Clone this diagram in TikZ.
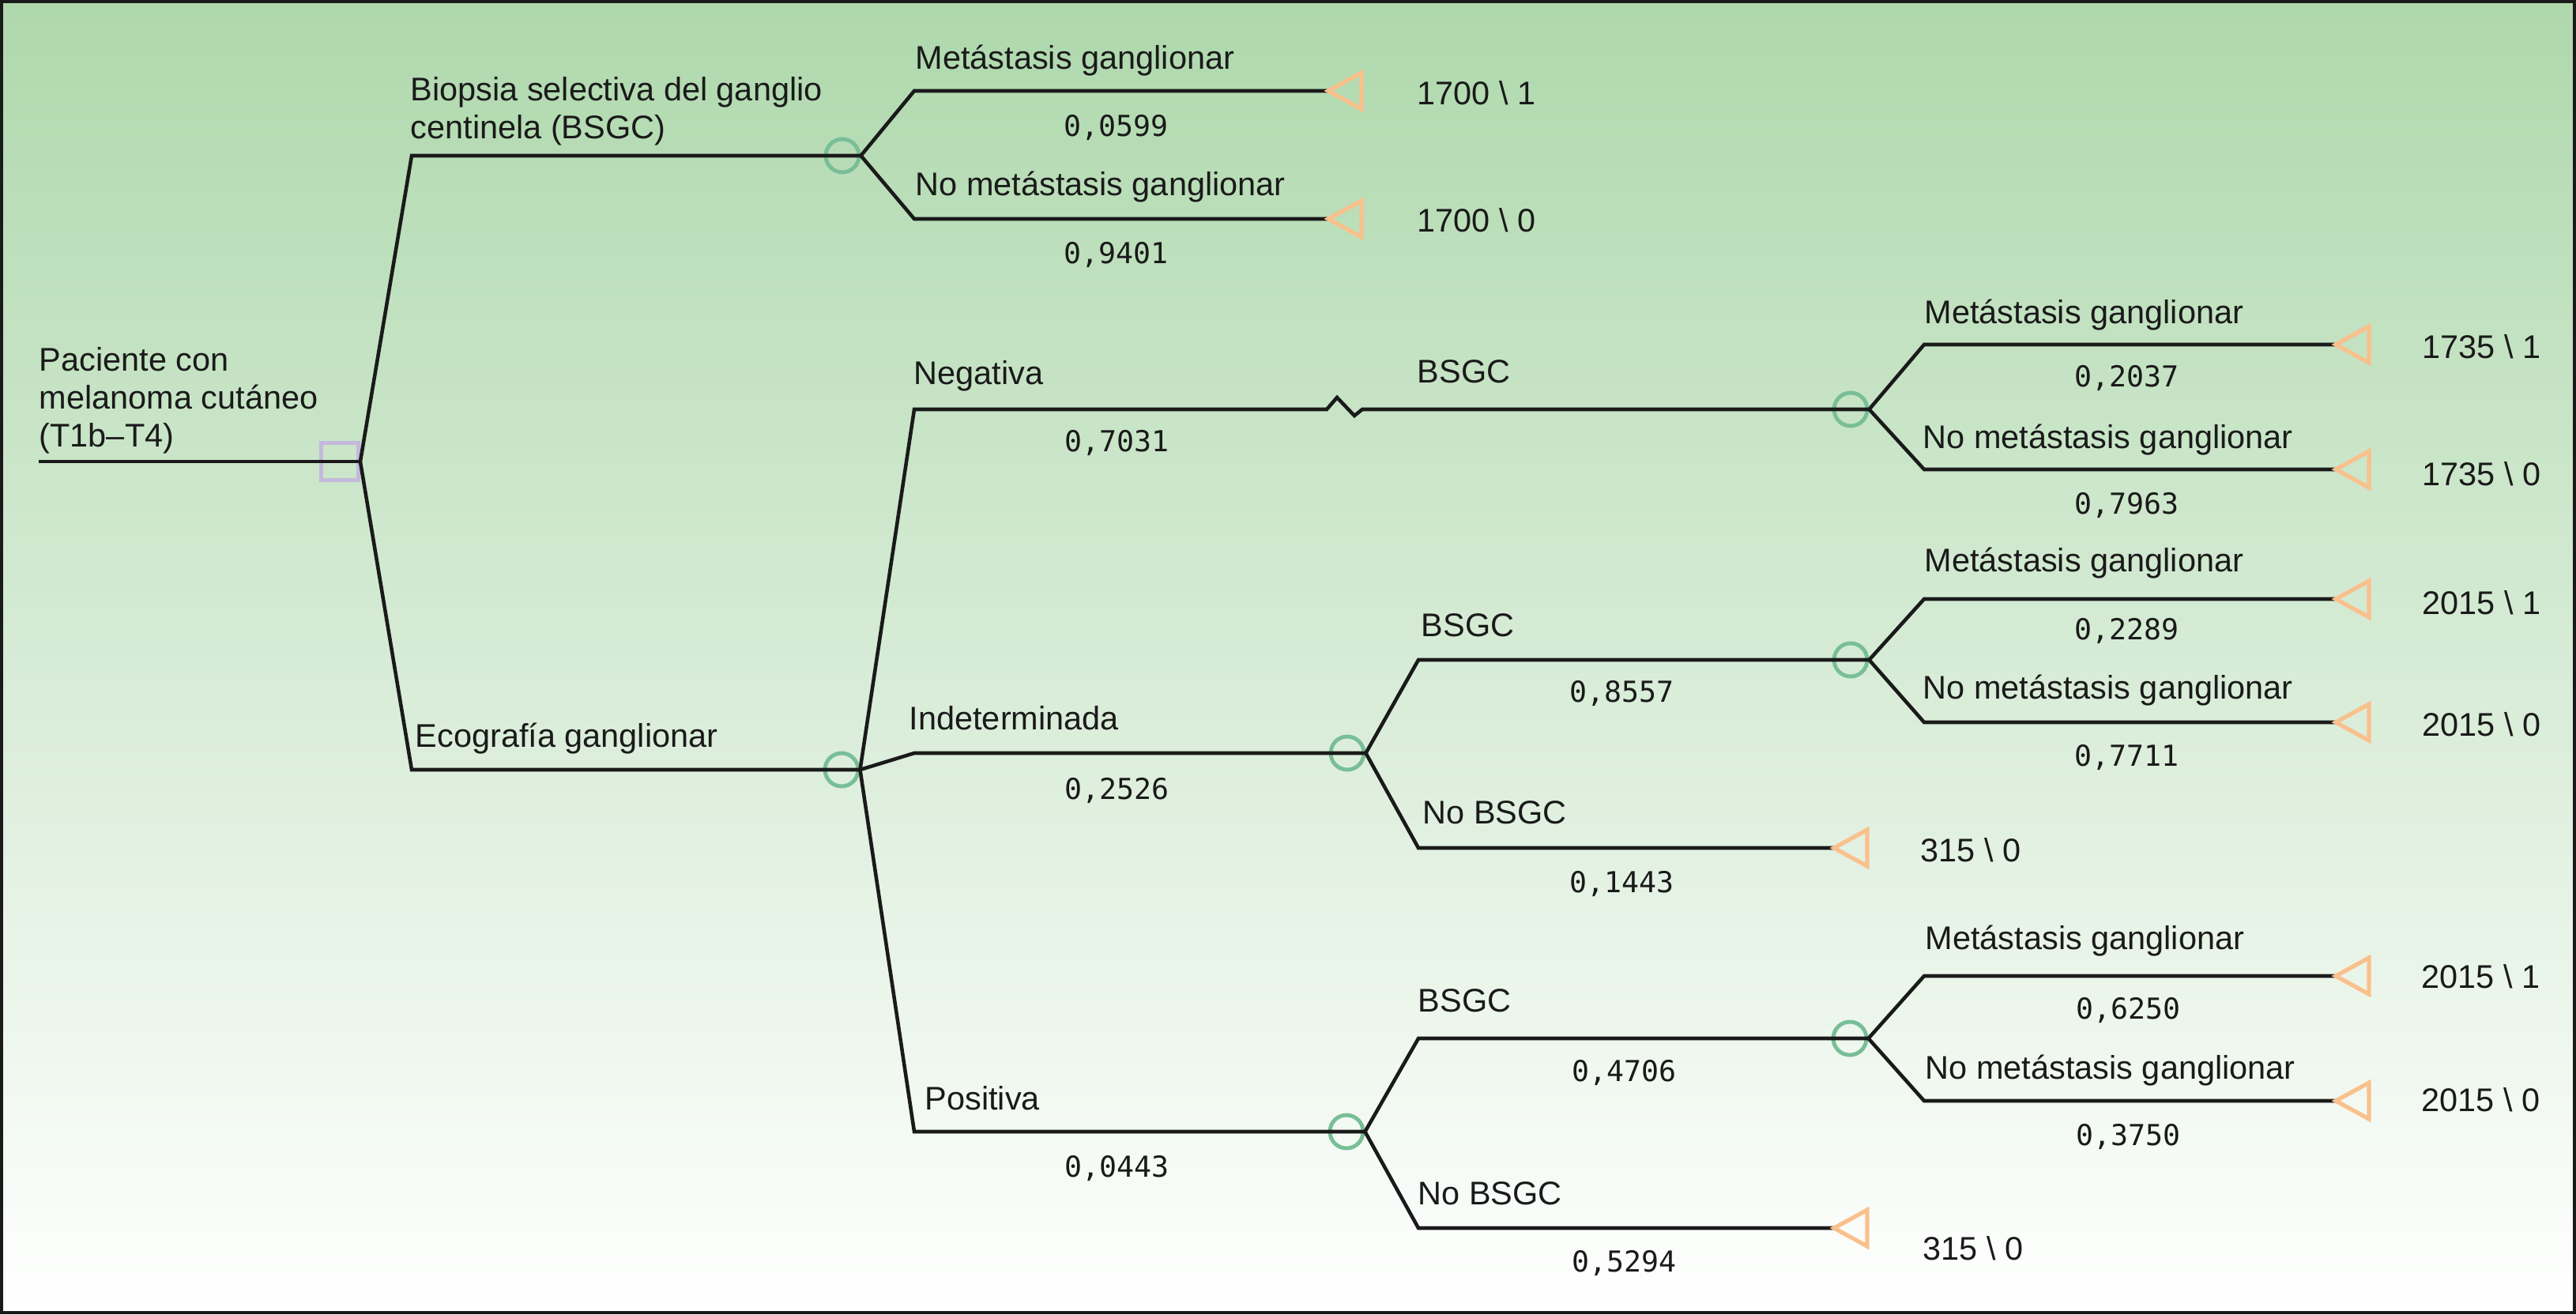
\documentclass[tikz,border=0pt]{standalone}
\usepackage{fontspec}
\setmainfont{Liberation Sans}
\newfontfamily\probfont{DejaVu Sans Mono}
\usetikzlibrary{positioning}

\definecolor{bgtop}{RGB}{174,216,172}
\definecolor{chancegreen}{RGB}{120,190,150}
\definecolor{endorange}{RGB}{250,192,140}
\definecolor{decpurple}{RGB}{196,184,220}
\definecolor{inkblack}{RGB}{26,26,26}

\tikzset{
    branch/.style={inkblack, line width=1.3pt},
    chance/.style={circle, draw=chancegreen, line width=1.4pt, minimum size=0.42cm, inner sep=0pt},
    decision/.style={rectangle, draw=decpurple, line width=1.4pt, minimum size=0.47cm, inner sep=0pt},
    endtri/.style={draw=endorange, line width=1.5pt},
    lbl/.style={font=\fontsize{11.8}{13.6}\selectfont, text=inkblack, inner sep=0pt, anchor=base west},
    prob/.style={font=\probfont\fontsize{10.4}{12}\selectfont, text=inkblack, inner sep=0pt, anchor=base}
}

\begin{document}
\begin{tikzpicture}
    \useasboundingbox (0,0) rectangle (32.6,-16.63);
    \shade[top color=bgtop, bottom color=white] (0,0) rectangle (32.6,-16.63);
    \draw[inkblack, line width=1pt] (0.018,-0.018) rectangle (32.582,-16.612);

    % Decision and chance nodes.
        \node[decision] (dec) at (4.30,-5.84) {};
        \node[chance] (c1) at (10.66,-1.97) {};
        \node[chance] (c2) at (10.65,-9.74) {};
        \node[chance] (c3) at (17.05,-9.53) {};
        \node[chance] (c4) at (17.04,-14.32) {};
        \node[chance] (c5) at (23.42,-5.18) {};
        \node[chance] (c6) at (23.42,-8.35) {};
        \node[chance] (c7) at (23.41,-13.14) {};

    % End points (tips of the triangles).
        \coordinate (t1) at (16.81,-1.15);
        \coordinate (t2) at (16.81,-2.77);
        \coordinate (t3) at (29.56,-4.36);
        \coordinate (t4) at (29.56,-5.94);
        \coordinate (t5) at (29.56,-7.58);
        \coordinate (t6) at (29.56,-9.14);
        \coordinate (t7) at (23.21,-10.73);
        \coordinate (t8) at (29.56,-12.35);
        \coordinate (t9) at (29.56,-13.93);
        \coordinate (t10) at (23.21,-15.54);

    % Columns where the branches bend.
        \coordinate (k1) at (5.21,0);
        \coordinate (k2) at (11.57,0);
        \coordinate (k3) at (17.95,0);
        \coordinate (k4) at (24.35,0);
        \coordinate (start) at (0.49,-5.84);
        \coordinate (zz) at (16.79,-5.18);

    % Branches.
        \draw[branch] (start) -- (dec.east);
        \draw[branch] (dec.east) -- (k1 |- c1) -- (c1.east);
        \draw[branch] (dec.east) -- (k1 |- c2) -- (c2.east);
        \draw[branch] (c1.east) -- (k2 |- t1) -- (t1);
        \draw[branch] (c1.east) -- (k2 |- t2) -- (t2);
        \draw[branch] (c2.east) -- (k2 |- c5) -- (zz) -- ++(0.13,0.15) -- ++(0.22,-0.23) -- ++(0.10,0.08) -- (c5.east);
        \draw[branch] (c2.east) -- (k2 |- c3) -- (c3.east);
        \draw[branch] (c2.east) -- (k2 |- c4) -- (c4.east);
        \draw[branch] (c3.east) -- (k3 |- c6) -- (c6.east);
        \draw[branch] (c3.east) -- (k3 |- t7) -- (t7);
        \draw[branch] (c4.east) -- (k3 |- c7) -- (c7.east);
        \draw[branch] (c4.east) -- (k3 |- t10) -- (t10);
        \draw[branch] (c5.east) -- (k4 |- t3) -- (t3);
        \draw[branch] (c5.east) -- (k4 |- t4) -- (t4);
        \draw[branch] (c6.east) -- (k4 |- t5) -- (t5);
        \draw[branch] (c6.east) -- (k4 |- t6) -- (t6);
        \draw[branch] (c7.east) -- (k4 |- t8) -- (t8);
        \draw[branch] (c7.east) -- (k4 |- t9) -- (t9);

    % This draws the end triangles.
        \foreach \t in {t1,t2,t3,t4,t5,t6,t7,t8,t9,t10}
            \draw[endtri] (\t) -- ++(0.42,0.23) -- ++(0,-0.46) -- cycle;

    % Below nodes are the labels.
        \node[lbl, anchor=north west, align=left] (root) at (0.49,-4.39) {Paciente con\\melanoma cutáneo\\(T1b–T4)};
        \node[lbl, anchor=north west, align=left] (bsgc) at (5.19,-0.97) {Biopsia selectiva del ganglio\\centinela (BSGC)};
        \node[lbl] (eco) at (5.25,-9.45) {Ecografía ganglionar};
        \node[lbl] (m1) at (11.58,-0.88) {Metástasis ganglionar};
        \node[lbl] (n1) at (11.58,-2.47) {No metástasis ganglionar};
        \node[lbl] (neg) at (11.56,-4.86) {Negativa};
        \node[lbl] (ind) at (11.50,-9.23) {Indeterminada};
        \node[lbl] (pos) at (11.70,-14.04) {Positiva};
        \node[lbl] (b1) at (17.93,-4.84) {BSGC};
        \node[lbl] (b2) at (17.98,-8.05) {BSGC};
        \node[lbl] (nb2) at (18.00,-10.42) {No BSGC};
        \node[lbl] (b3) at (17.94,-12.80) {BSGC};
        \node[lbl] (nb3) at (17.94,-15.24) {No BSGC};
        \node[lbl] (m5) at (24.35,-4.09) {Metástasis ganglionar};
        \node[lbl] (n5) at (24.33,-5.67) {No metástasis ganglionar};
        \node[lbl] (m6) at (24.35,-7.23) {Metástasis ganglionar};
        \node[lbl] (n6) at (24.33,-8.84) {No metástasis ganglionar};
        \node[lbl] (m7) at (24.36,-12.01) {Metástasis ganglionar};
        \node[lbl] (n7) at (24.36,-13.65) {No metástasis ganglionar};

    % Payoffs.
        \node[lbl] (v1) at (17.93,-1.33) {1700 \textbackslash{} 1};
        \node[lbl] (v2) at (17.93,-2.93) {1700 \textbackslash{} 0};
        \node[lbl] (v3) at (30.65,-4.53) {1735 \textbackslash{} 1};
        \node[lbl] (v4) at (30.65,-6.14) {1735 \textbackslash{} 0};
        \node[lbl] (v5) at (30.65,-7.77) {2015 \textbackslash{} 1};
        \node[lbl] (v6) at (30.65,-9.31) {2015 \textbackslash{} 0};
        \node[lbl] (v7) at (24.30,-10.90) {315 \textbackslash{} 0};
        \node[lbl] (v8) at (30.64,-12.50) {2015 \textbackslash{} 1};
        \node[lbl] (v9) at (30.64,-14.06) {2015 \textbackslash{} 0};
        \node[lbl] (v10) at (24.33,-15.94) {315 \textbackslash{} 0};

    % Probabilities.
        \node[prob] (p1) at (14.12,-1.725) {0,0599};
        \node[prob] (p2) at (14.12,-3.335) {0,9401};
        \node[prob] (p3) at (14.13,-5.715) {0,7031};
        \node[prob] (p4) at (14.13,-10.115) {0,2526};
        \node[prob] (p5) at (14.13,-14.895) {0,0443};
        \node[prob] (p6) at (20.52,-8.885) {0,8557};
        \node[prob] (p7) at (20.52,-11.295) {0,1443};
        \node[prob] (p8) at (20.55,-13.685) {0,4706};
        \node[prob] (p9) at (20.55,-16.095) {0,5294};
        \node[prob] (p10) at (26.91,-4.895) {0,2037};
        \node[prob] (p11) at (26.91,-6.505) {0,7963};
        \node[prob] (p12) at (26.91,-8.095) {0,2289};
        \node[prob] (p13) at (26.91,-9.695) {0,7711};
        \node[prob] (p14) at (26.93,-12.895) {0,6250};
        \node[prob] (p15) at (26.93,-14.495) {0,3750};
\end{tikzpicture}
\end{document}
